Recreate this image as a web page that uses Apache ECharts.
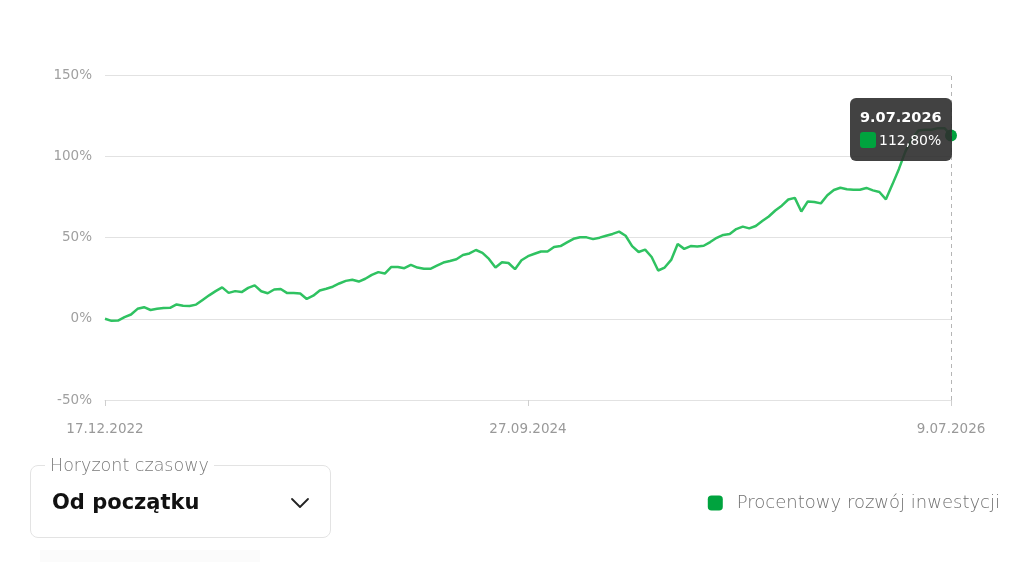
<!DOCTYPE html>
<html>
<head>
<meta charset="utf-8">
<script src="https://cdn.jsdelivr.net/npm/echarts@6/dist/echarts.min.js"></script>
<style>
  html, body { margin: 0; padding: 0; background: #fff; }
  #wrap { position: relative; width: 1024px; height: 562px; overflow: hidden; font-family: "DejaVu Sans", sans-serif; }
  #chart { position: absolute; left: 0; top: 0; width: 1024px; height: 562px; }
  #select { position: absolute; left: 30px; top: 465px; width: 301px; height: 73px; border: 1px solid #e3e3e3; border-radius: 8px; box-sizing: border-box; }
  #select .lbl { position: absolute; left: 14px; top: -12px; padding: 0 5px; background: #fff; color: #7a7a7a; font-size: 17.5px; line-height: 22px; font-weight: 300; }
  #select .val { position: absolute; left: 21px; top: 22px; color: #111; font-size: 21px; font-weight: 700; line-height: 28px; }
  #select svg { position: absolute; left: 259px; top: 31px; }
  #strip { position: absolute; left: 40px; top: 550px; width: 220px; height: 12px; background: #fbfbfb; }
</style>
</head>
<body>
<div id="wrap">
  <div id="chart"></div>
  <div id="select">
    <div class="lbl">Horyzont czasowy</div>
    <div class="val">Od początku</div>
    <svg width="20" height="12" viewBox="0 0 20 12"><polyline points="2,2 10,10 18,2" fill="none" stroke="#222" stroke-width="1.8" stroke-linecap="round" stroke-linejoin="round"/></svg>
  </div>
  <div id="strip"></div>
</div>
<script>
// ---- data ----
const startDate = [2022, 12, 17];   // 17.12.2022
const stepDays = 10;
const seriesName = 'Procentowy rozwój inwestycji';
const values = [
  0, -1.3, -1.1, 1, 2.6, 6.1, 7.1, 5.4, 6.1, 6.6,
  6.7, 8.8, 8, 7.9, 8.7, 11.6, 14.4, 17, 19.3, 15.9,
  17, 16.4, 19, 20.5, 16.9, 15.7, 18, 18.3, 15.8, 15.8,
  15.5, 12.2, 14.2, 17.4, 18.5, 19.7, 21.7, 23.3, 24, 22.9,
  24.6, 27, 28.7, 27.8, 31.9, 31.9, 31.1, 33.1, 31.5, 30.8,
  30.7, 32.7, 34.6, 35.5, 36.6, 39.2, 40.2, 42.3, 40.5, 36.8,
  31.5, 34.8, 34.3, 30.5, 36, 38.5, 40, 41.4, 41.4, 44.2,
  44.7, 47, 49.2, 50.2, 50.1, 49, 49.9, 51.1, 52.2, 53.6,
  51.1, 44.7, 41.1, 42.5, 38, 29.7, 31.5, 36.2, 46, 43,
  44.7, 44.5, 44.9, 47.2, 49.8, 51.6, 52.1, 55.2, 56.7, 55.6,
  57.1, 60.1, 62.9, 66.6, 69.6, 73.4, 74.4, 66, 72.2, 71.9,
  71, 76, 79.2, 80.6, 79.7, 79.4, 79.4, 80.5, 79, 78,
  73.5, 82.7, 92.2, 103, 110.8, 115.8, 116.3, 116.3, 117.3, 117.3,
  112.8
];
const yTicks = [-50, 0, 50, 100, 150];
const labelEvery = 65;

// ---- categories (dates every stepDays) ----
const categories = values.map((_, i) => {
  const d = new Date(Date.UTC(startDate[0], startDate[1] - 1, startDate[2] + i * stepDays));
  return d.getUTCDate() + '.' + String(d.getUTCMonth() + 1).padStart(2, '0') + '.' + d.getUTCFullYear();
});

const green = '#00a33e';
const lineGreen = '#2bb159';
const font = '"DejaVu Sans", sans-serif';
const fmtPct = v => v.toFixed(2).replace('.', ',') + '%';

const chart = echarts.init(document.getElementById('chart'));
chart.setOption({
  animation: false,
  textStyle: { fontFamily: font },
  grid: { left: 105, right: 73, top: 75, bottom: 162 },
  legend: {
    data: [seriesName],
    right: 19, top: 489,
    icon: 'roundRect', itemWidth: 15, itemHeight: 15,
    itemStyle: { color: green },
    textStyle: { fontSize: 18, color: '#707070', padding: [0, 0, 0, 9], fontFamily: font, fontWeight: 300 },
    selectedMode: false
  },
  tooltip: {
    trigger: 'axis',
    triggerOn: 'none',
    alwaysShowContent: true,
    transitionDuration: 0,
    backgroundColor: 'rgba(45,45,45,0.9)',
    borderWidth: 0,
    padding: [9, 10, 8, 10],
    extraCssText: 'box-shadow:none;border-radius:6px;',
    axisPointer: { type: 'line', lineStyle: { color: '#b5b5b5', type: [4, 4], width: 1 } },
    position: function (point) { return [point[0] - 101, point[1] - 37]; },
    formatter: function (params) {
      const p = params[0];
      return '<div style="font-family:\'DejaVu Sans\',sans-serif;color:#fff;">' +
        '<div style="font-weight:700;font-size:14.5px;line-height:21px;">' + p.name + '</div>' +
        '<div style="font-size:14px;line-height:25px;white-space:nowrap;">' +
        '<span style="display:inline-block;width:16px;height:16px;border-radius:3px;background:' + green + ';vertical-align:-3px;margin-right:3px;"></span>' +
        fmtPct(p.value) + '</div></div>';
    }
  },
  xAxis: {
    type: 'category',
    data: categories,
    boundaryGap: false,
    axisLine: { show: true, onZero: false, lineStyle: { color: '#e2e2e2' } },
    axisTick: { show: true, length: 6, interval: i => i % labelEvery === 0, lineStyle: { color: '#cfcfcf' } },
    axisLabel: { interval: i => i % labelEvery === 0, color: '#999', fontSize: 13.5, margin: 22 }
  },
  yAxis: {
    type: 'value',
    min: yTicks[0], max: yTicks[yTicks.length - 1], interval: 50,
    axisLine: { show: false }, axisTick: { show: false },
    axisLabel: { formatter: '{value}%', color: '#a0a0a0', fontSize: 13.5, margin: 13 },
    splitLine: { lineStyle: { color: '#e2e2e2', width: 1 } }
  },
  series: [{
    name: seriesName,
    type: 'line',
    data: values,
    symbol: 'none',
    itemStyle: { color: green },
    lineStyle: { color: lineGreen, width: 2.5 },
    markPoint: {
      symbol: 'circle', symbolSize: 12,
      itemStyle: { color: green, borderWidth: 0 },
      label: { show: false },
      emphasis: { disabled: true },
      data: [{ coord: [categories.length - 1, values[values.length - 1]] }]
    }
  }]
});
chart.dispatchAction({ type: 'showTip', seriesIndex: 0, dataIndex: values.length - 1 });
</script>
</body>
</html>
